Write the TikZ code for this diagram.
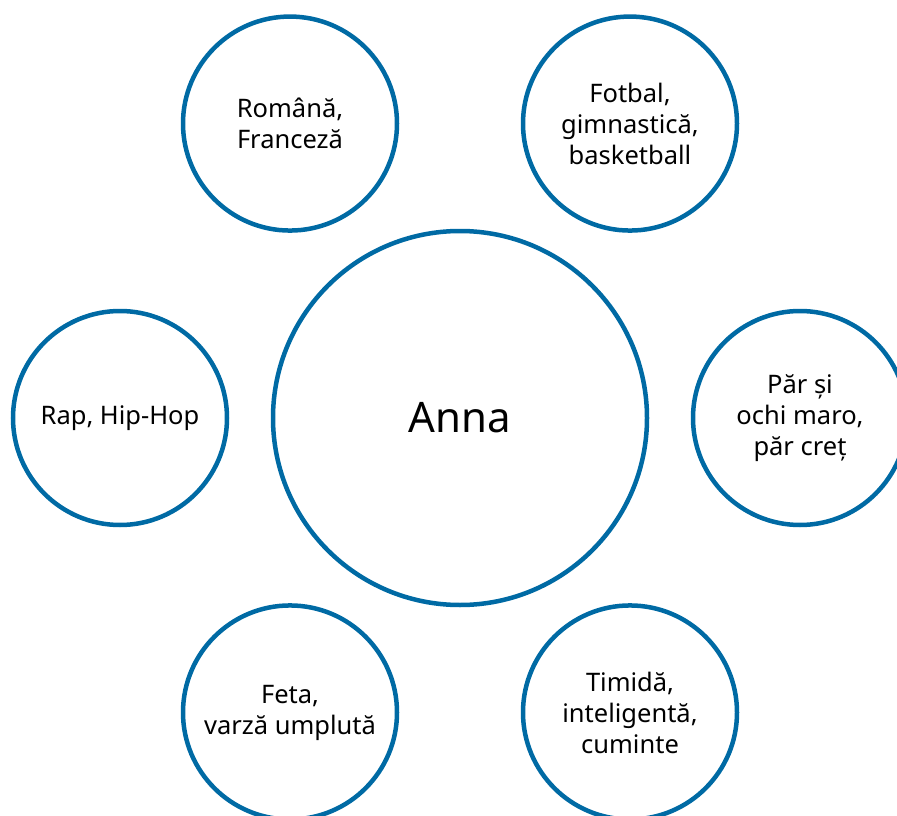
\documentclass[tikz,border=0pt]{standalone}
\usepackage{fontspec}
\setmainfont{Noto Sans}
\usetikzlibrary{positioning,calc}
\definecolor{ringblue}{RGB}{0,106,164}

\begin{document}
\begin{tikzpicture}[
            x=1pt, y=-1pt,
            hub/.style = {circle, draw=ringblue, line width=4.5pt, minimum size=374pt,
                   inner sep=0pt, font=\fontsize{42}{50}\selectfont},
            topic/.style={circle, draw=ringblue, line width=4.5pt, minimum size=214pt,
                   inner sep=0pt, align=center, font=\fontsize{25.5}{31}\selectfont}
        ]
            \useasboundingbox (0,0) rectangle (897,816);
            \clip (0,0) rectangle (897,816);
            \node [hub] (Anna) at (460,418) {Anna};

            % Draw topics around the hub
            \node [topic] (Hair)  at ($(Anna)+(0:340pt)$)   {Păr și\\ochi maro,\\păr creț};
            \node [topic] (Sport) at ($(Anna)+(60:340pt)$)  {Fotbal,\\gimnastică,\\basketball};
            \node [topic] (Lang)  at ($(Anna)+(120:340pt)$) {Română,\\Franceză};
            \node [topic] (Music) at ($(Anna)+(180:340pt)$) {Rap, Hip-Hop};
            \node [topic] (Food)  at ($(Anna)+(240:340pt)$) {Feta,\\varză umplută};
            \node [topic] (Trait) at ($(Anna)+(300:340pt)$) {Timidă,\\inteligentă,\\cuminte};
        \end{tikzpicture}
\end{document}
